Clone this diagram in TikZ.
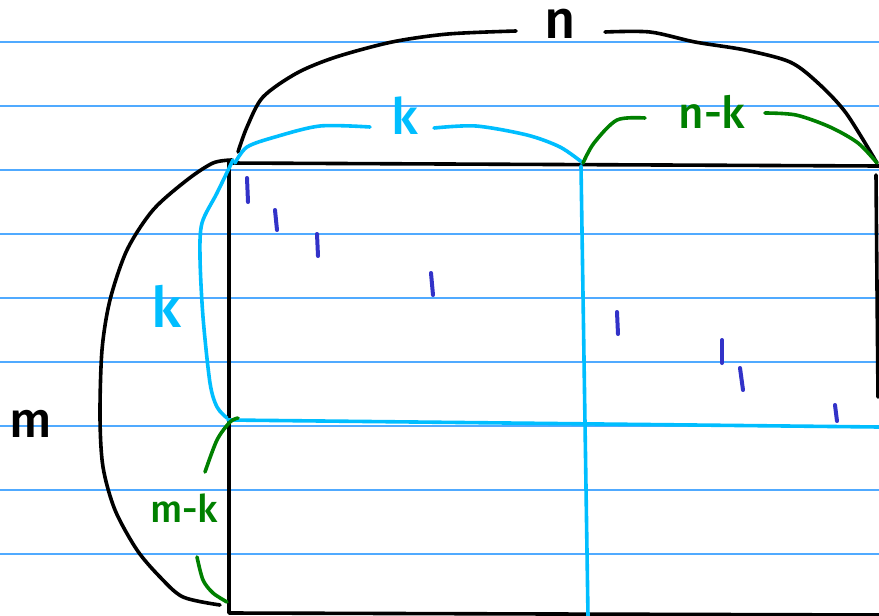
\documentclass[tikz,border=0pt]{standalone}
\usepackage{fontspec}
\setmainfont{Fira Sans}
\definecolor{rule}{RGB}{80,170,255}
\definecolor{cy}{RGB}{0,190,255}
\definecolor{gr}{RGB}{0,128,0}
\definecolor{mk}{RGB}{50,50,200}
\tikzset{
  ruled/.style={draw=rule, line width=1.3pt},
  pen/.style={line width=3.6pt, line cap=round, line join=round},
  blk/.style={pen, draw=black},
  cyn/.style={pen, draw=cy},
  grn/.style={pen, draw=gr},
  tick/.style={line width=4pt, line cap=round, draw=mk},
  lbl/.style={inner sep=0pt, anchor=center, font=\fontspec{Fira Sans Medium}}
}
\begin{document}
\begin{tikzpicture}[x=1pt,y=-1pt]
\useasboundingbox[fill=white] (0,0) rectangle (879,616);
% ruled lines
\foreach \yy in {42,106,170,234,298,362,426,490,554}
  \draw[ruled] (0,\yy) -- (879,\yy);
% rectangle (black)
\draw[blk] (229,163) -- (879,166);
\draw[blk] (229,161) -- (229,613) -- (879,615);
\draw[blk] (876,175) -- (878,397);
% cyan split lines
\draw[cyn] (581,166) -- (588,616);
\draw[cyn] (228,420) -- (879,427);
% black top brace n
\draw[blk] plot[smooth] coordinates {(238,152) (247,127) (263,97) (297,73) (336,57) (392,42) (448,34) (516,31)};
\draw[blk] plot[smooth] coordinates {(605,32) (650,32) (695,42) (745,50) (790,62) (818,83) (846,113) (877,163)};
\node[lbl] (n) at (560,24) {\fontsize{54}{54}\selectfont n};
% cyan top brace k
\draw[cyn] plot[smooth] coordinates {(235,163) (247,147) (275,137) (320,126) (370,127)};
\draw[cyn] plot[smooth] coordinates {(434,128) (476,126) (527,135) (560,147) (583,163)};
\node[lbl,text=cy] (k1) at (405,116) {\fontsize{50}{50}\selectfont k};
% green top brace n-k
\draw[grn] plot[smooth] coordinates {(583,163) (594,143) (617,120) (645,118)};
\draw[grn] plot[smooth] coordinates {(765,113) (796,115) (830,127) (858,143) (877,163)};
\node[lbl,text=gr] (nk) at (712,112) {\fontsize{44}{44}\selectfont n-k};
% black left brace m
\draw[blk] plot[smooth] coordinates {(232,160) (213,163) (187,180) (153,210) (127,250) (110,300) (102,350) (100,417) (103,467) (115,510) (137,550) (160,577) (183,597) (220,605)};
\node[lbl] (m) at (31,424) {\fontsize{50}{50}\selectfont m};
% cyan left brace k
\draw[cyn] plot[smooth] coordinates {(233,160) (217,193) (202,223) (200,257) (203,317) (210,383) (217,407) (227,418)};
\node[lbl,text=cy] (k2) at (166,306) {\fontsize{56}{56}\selectfont k};
% green left brace m-k
\draw[grn] plot[smooth] coordinates {(238,418) (230,422) (217,440) (205,472)};
\draw[grn] plot[smooth] coordinates {(197,557) (203,580) (213,593) (227,602)};
\node[lbl,text=gr] (mk) at (184,508) {\fontsize{38}{38}\selectfont m-k};
% diagonal ones
\draw[tick] (247,178) -- (248,202);
\draw[tick] (275,210) -- (277,230);
\draw[tick] (317,234) -- (318,256);
\draw[tick] (431,273) -- (433,295);
\draw[tick] (617,312) -- (618,334);
\draw[tick] (722,340) -- (722,363);
\draw[tick] (740,368) -- (743,390);
\draw[tick] (835,405) -- (837,421);
\end{tikzpicture}
\end{document}
